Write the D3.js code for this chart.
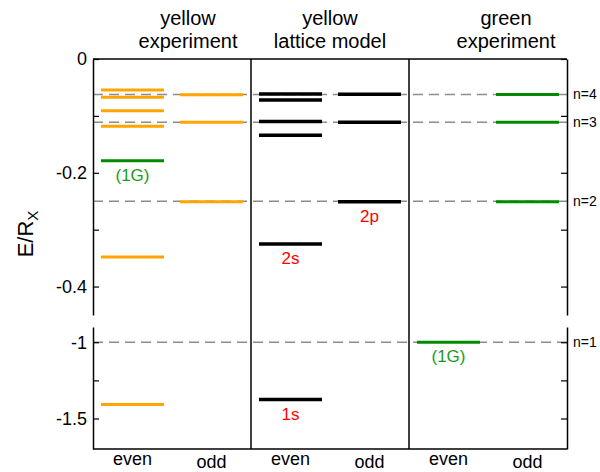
<!DOCTYPE html>
<html>
<head>
<meta charset="utf-8">
<script src="https://cdn.jsdelivr.net/npm/d3@7"></script>
<style>
  body { margin: 0; background: #fff; }
  svg { display: block; font-family: "Liberation Sans", Arial, Helvetica, sans-serif; }
</style>
</head>
<body>
<svg id="chart" width="600" height="472"></svg>
<script>
// Panel titles (two lines each) and the parity columns inside every panel
const panelTitles = [["yellow", "experiment"], ["yellow", "lattice model"], ["green", "experiment"]];
const parities = ["even", "odd"];

// Hydrogen-like reference series E = -R/n^2
const seriesNames = ["n=1", "n=2", "n=3", "n=4"];
const seriesEnergies = [-1, -0.25, -0.111, -0.0625];

// Energy levels (units of R_X)
const yellowExpEven = [-0.0545, -0.0674, -0.091, -0.118, -0.348, -1.409];
const yellowExpOdd = [-0.063, -0.111, -0.251];
const yellowExpGreenEven = [-0.179];
const latticeEven = [-0.0616, -0.072, -0.110, -0.134, -0.325, -1.376];
const latticeOdd = [-0.062, -0.111, -0.251];
const greenExpEven = [-1.0];
const greenExpOdd = [-0.0625, -0.111, -0.251];

// State labels attached to levels
const stateLabels = ["(1G)", "2s", "1s", "2p", "(1G)"];
const stateLabelPanel = [0, 1, 1, 1, 2];
const stateLabelParity = ["even", "even", "even", "odd", "even"];
const stateLabelEnergy = [-0.179, -0.325, -1.376, -0.251, -1.0];
const stateLabelKind = ["green", "model", "model", "model", "green"];

// Axis ticks
const upperTicks = [0, -0.1, -0.2, -0.3, -0.4];
const upperLabels = [0, -0.2, -0.4];
const lowerTicks = [-1, -1.25, -1.5];
const lowerLabels = [-1, -1.5];

const levelSets = [
  { panel: 0, parity: "even", kind: "yellow", values: yellowExpEven },
  { panel: 0, parity: "odd", kind: "yellow", values: yellowExpOdd },
  { panel: 0, parity: "even", kind: "green", values: yellowExpGreenEven },
  { panel: 1, parity: "even", kind: "black", values: latticeEven },
  { panel: 1, parity: "odd", kind: "black", values: latticeOdd },
  { panel: 2, parity: "even", kind: "green", values: greenExpEven },
  { panel: 2, parity: "odd", kind: "green", values: greenExpOdd }
];

const colors = { yellow: "#ffa500", green: "#008a00", black: "#000" };
const labelColors = { green: "#1a9a1a", model: "#ff0000" };

const svg = d3.select("#chart");
const L = 93, R = 567, T = 59, B = 449;

// x: panels, then parity columns inside each panel
const xPanel = d3.scaleBand().domain(d3.range(panelTitles.length)).range([L, R]);
const xParity = d3.scaleBand().domain(parities).range([0, xPanel.bandwidth()])
  .paddingInner(16 / 79).paddingOuter(8 / 79);

// y: broken axis, upper part for the Rydberg-like series, lower part for the ground states
const yTop = d3.scaleLinear().domain([0, -0.45]).range([T, 315]);
const yBot = d3.scaleLinear().domain([-0.9, -1.7]).range([327, B]);
const y = e => (e > -0.6 ? yTop(e) : yBot(e));

const fmt = labels => d => (labels.includes(d) ? String(d) : "");

// dashed reference lines
svg.append("g").selectAll("line").data(seriesEnergies).join("line")
  .attr("x1", L).attr("x2", R)
  .attr("y1", d => y(d)).attr("y2", d => y(d))
  .attr("stroke", "#8c8c8c").attr("stroke-width", 1.5)
  .attr("stroke-dasharray", "10,6");

svg.append("g").selectAll("text").data(seriesEnergies).join("text")
  .attr("x", R + 6).attr("y", d => y(d))
  .attr("dy", "0.35em")
  .attr("font-size", 14)
  .text((d, i) => seriesNames[i]);

// energy levels
const levelG = svg.append("g");
levelSets.forEach(set => {
  const x0 = xPanel(set.panel) + xParity(set.parity);
  levelG.append("g").selectAll("line").data(set.values).join("line")
    .attr("x1", x0).attr("x2", x0 + xParity.bandwidth())
    .attr("y1", d => y(d)).attr("y2", d => y(d))
    .attr("stroke", colors[set.kind])
    .attr("stroke-width", set.kind === "black" ? 3.5 : 3);
});

// state labels under their levels
svg.append("g").selectAll("text").data(stateLabels).join("text")
  .attr("x", (d, i) => xPanel(stateLabelPanel[i]) + xParity(stateLabelParity[i]) + xParity.bandwidth() / 2)
  .attr("y", (d, i) => y(stateLabelEnergy[i]) + 20)
  .attr("text-anchor", "middle")
  .attr("font-size", 17)
  .attr("fill", (d, i) => labelColors[stateLabelKind[i]])
  .text(d => d);

// axes (ticks point inward)
const axisStyle = g => {
  g.selectAll(".domain").attr("stroke", "#000").attr("stroke-width", 1.5);
  g.selectAll(".tick line").attr("stroke", "#000").attr("stroke-width", 1.2);
  g.selectAll(".tick text").attr("font-size", 18).attr("fill", "#000");
  g.attr("font-family", null);
};

svg.append("g").attr("transform", `translate(${L},0)`)
  .call(d3.axisLeft(yTop).tickValues(upperTicks).tickFormat(fmt(upperLabels))
    .tickSizeInner(-6).tickSizeOuter(0).tickPadding(6))
  .call(axisStyle);
svg.append("g").attr("transform", `translate(${L},0)`)
  .call(d3.axisLeft(yBot).tickValues(lowerTicks).tickFormat(fmt(lowerLabels))
    .tickSizeInner(-6).tickSizeOuter(0).tickPadding(6))
  .call(axisStyle);
svg.append("g").attr("transform", `translate(${R},0)`)
  .call(d3.axisRight(yTop).tickValues(upperTicks).tickFormat("")
    .tickSizeInner(-6).tickSizeOuter(0))
  .call(axisStyle);
svg.append("g").attr("transform", `translate(${R},0)`)
  .call(d3.axisRight(yBot).tickValues(lowerTicks).tickFormat("")
    .tickSizeInner(-6).tickSizeOuter(0))
  .call(axisStyle);

// frame: top, bottom, panel separators
const frame = svg.append("g").attr("stroke", "#000").attr("stroke-width", 1.5);
frame.append("line").attr("x1", L).attr("x2", R).attr("y1", T).attr("y2", T);
frame.append("line").attr("x1", L).attr("x2", R).attr("y1", B).attr("y2", B);
frame.selectAll(".sep").data(d3.range(1, panelTitles.length)).join("line")
  .attr("class", "sep")
  .attr("x1", d => xPanel(d)).attr("x2", d => xPanel(d))
  .attr("y1", T).attr("y2", B);

// panel titles; the outer two sit a little right of their panel centres
const titleShift = [16, 0, 18];
const titles = svg.append("g").attr("text-anchor", "middle").attr("font-size", 20);
panelTitles.forEach((lines, i) => {
  const cx = xPanel(i) + xPanel.bandwidth() / 2 + titleShift[i];
  const t = titles.append("text").attr("x", cx).attr("y", 25);
  lines.forEach((ln, j) => t.append("tspan")
    .attr("x", cx).attr("dy", j === 0 ? 0 : 23).text(ln));
});

// parity labels under each column
const bottomLabels = svg.append("g").attr("text-anchor", "middle").attr("font-size", 18);
d3.range(panelTitles.length).forEach(p => {
  bottomLabels.selectAll(null).data(parities).join("text")
    .attr("x", d => xPanel(p) + xParity(d) + xParity.bandwidth() / 2)
    .attr("y", d => (d === "even" ? 465 : 468))
    .text(d => d);
});

// y-axis title E/R_X
svg.append("text")
  .attr("transform", "translate(33,234) rotate(-90)")
  .attr("text-anchor", "middle")
  .attr("font-size", 22)
  .call(t => {
    t.append("tspan").text("E/R");
    t.append("tspan").attr("font-size", 15).attr("dy", 5).text("X");
  });
</script>
</body>
</html>
